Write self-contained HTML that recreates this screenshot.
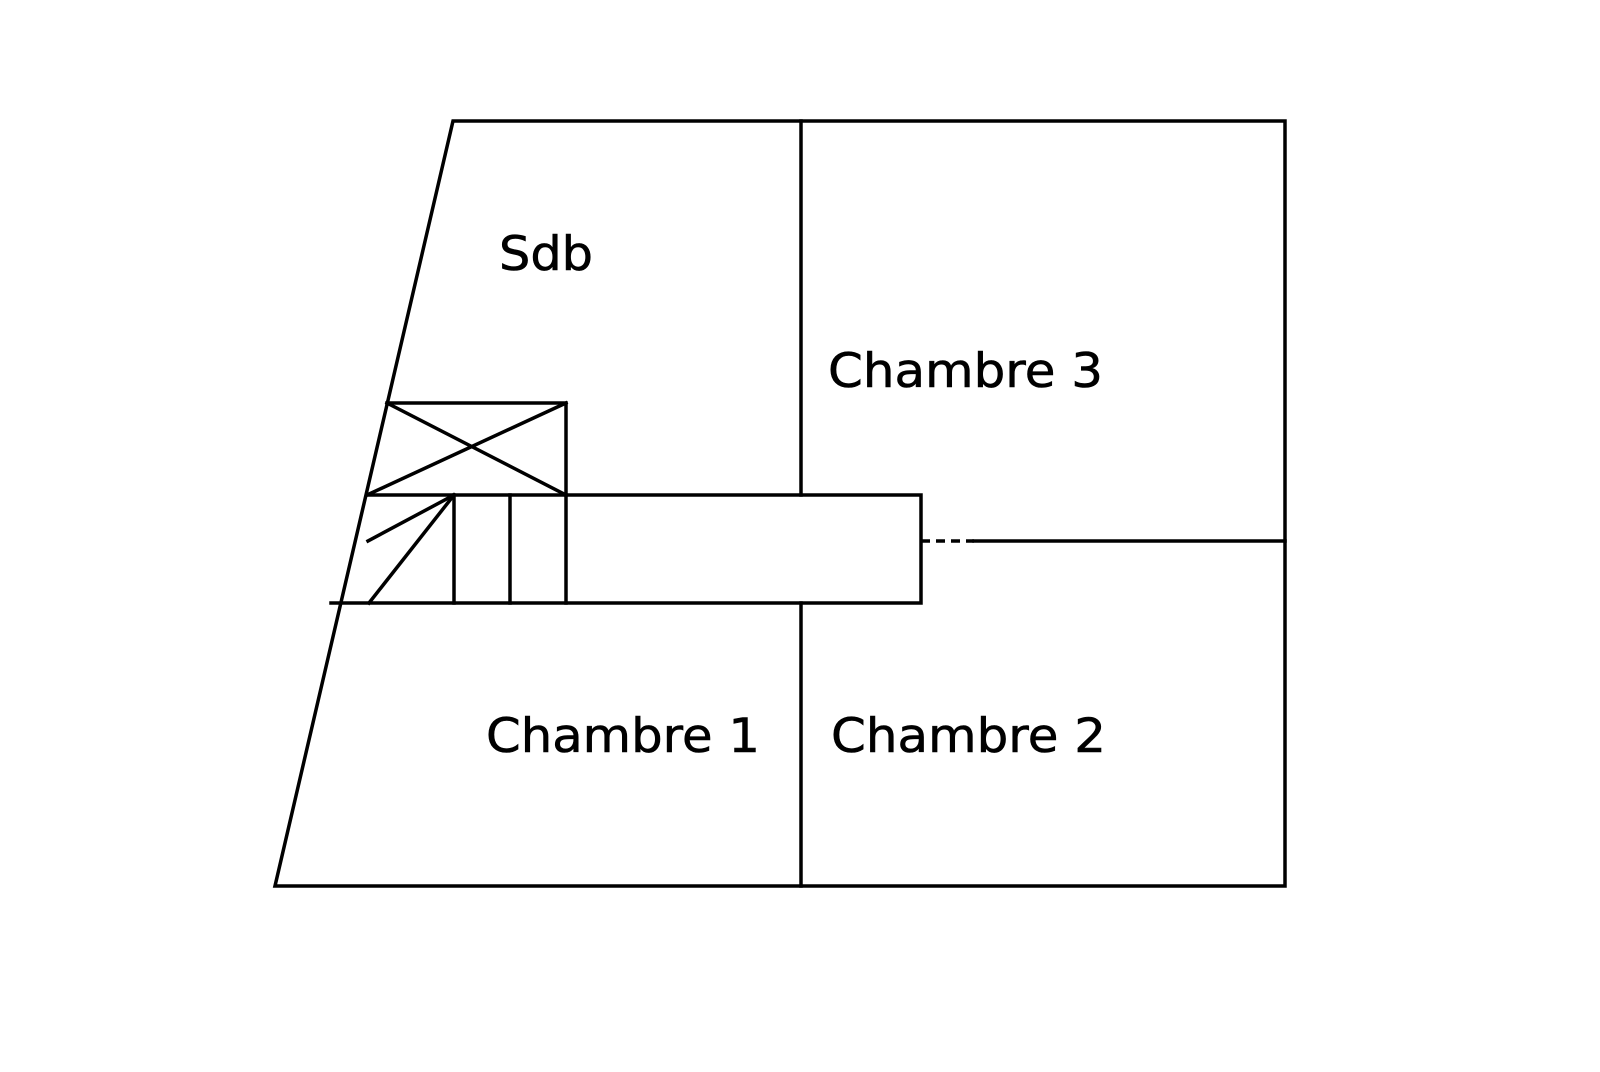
<!DOCTYPE html>
<html><head><meta charset="utf-8"><style>html,body{margin:0;padding:0;background:#fff}svg{display:block}</style></head>
<body>
<svg width="1600" height="1072" viewBox="0 0 1600 1072" xmlns="http://www.w3.org/2000/svg">
<g stroke="#000" stroke-width="3.5" fill="none" stroke-linecap="square">
<polygon points="453,121 1285,121 1285,886 275,886"/>
<line x1="801" y1="121" x2="801" y2="495"/>
<line x1="801" y1="603" x2="801" y2="886"/>
<line x1="974" y1="541" x2="1285" y2="541"/>
<line x1="921" y1="541" x2="974" y2="541" stroke-dasharray="9,6" stroke-linecap="butt"/>
<polyline points="566,495 921,495 921,603 331,603"/>
<polyline points="367,495 566,495 566,603"/>
<polyline points="387,403 566,403 566,495"/>
<line x1="387" y1="403" x2="566" y2="495"/>
<line x1="566" y1="403" x2="367" y2="495"/>
<line x1="454" y1="495" x2="454" y2="603"/>
<line x1="510" y1="495" x2="510" y2="603"/>
<line x1="454" y1="495" x2="368" y2="541"/>
<line x1="454" y1="495" x2="369" y2="603"/>
</g>
<g font-family="'DejaVu Sans', Verdana, sans-serif" font-size="47" fill="#000" stroke="#000" stroke-width="0.6">
<text x="499" y="270" textLength="94" lengthAdjust="spacingAndGlyphs">Sdb</text>
<text x="828" y="387" textLength="275" lengthAdjust="spacingAndGlyphs">Chambre 3</text>
<text x="486" y="752" textLength="274" lengthAdjust="spacingAndGlyphs">Chambre 1</text>
<text x="831" y="752" textLength="275" lengthAdjust="spacingAndGlyphs">Chambre 2</text>
</g>
</svg>
</body></html>
